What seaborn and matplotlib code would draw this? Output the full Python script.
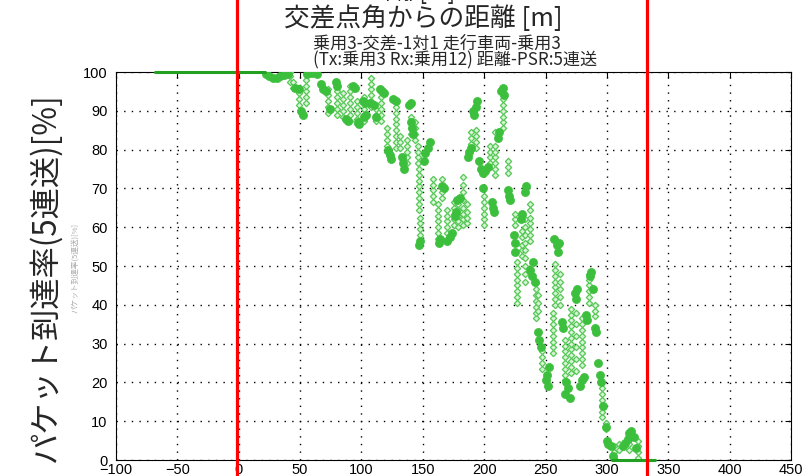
import matplotlib
matplotlib.use("Agg")
import matplotlib.pyplot as plt
import seaborn as sns
import pandas as pd

# ---------------- data ----------------
# sparse samples (open diamond markers), grouped in vertical stripes
stripe_x = [42, 44, 49, 55, 73, 80, 85, 91, 96, 102, 108, 112, 116, 121, 128, 131,
            137, 140, 144, 146, 147, 148, 158, 162, 166, 170, 175, 179, 183, 186,
            189, 193, 200, 205, 209, 215, 219, 225, 227, 231, 233, 237, 242, 244,
            247, 256, 258, 262, 266, 271, 275, 280, 285, 290, 296, 299, 306, 310,
            318, 325]
stripe_y = [
    [97.5, 99, 100],
    [96, 97.5],
    [91.5, 93, 94.5, 96],
    [92, 93.5, 95, 96.5, 98, 99.5],
    [89.5, 91, 92.5, 94, 95.5],
    [89, 90.5, 92, 93.5, 95],
    [88.5, 90, 91.5, 93, 94.5],
    [87.5, 89, 90.5, 92, 93.5, 95, 96.5],
    [86.5, 88, 89.5, 91, 92.5],
    [87.5, 89, 90.5, 93.5],
    [91, 92.5, 94, 95.5, 97, 98.5],
    [87.5, 89, 90.5],
    [87.5, 89, 90.5, 92, 93.5],
    [79.5, 81, 82.5, 84, 85.5],
    [80.5, 82, 83.5, 85, 86.5, 88, 89.5, 91],
    [80.5, 82, 83.5],
    [76.5, 78, 79.5, 81, 82.5],
    [84, 85.5, 87, 88.5],
    [82.5, 84, 85.5, 87],
    [76.5, 78, 79.5, 81],
    [64.5, 66, 67.5, 69, 70.5, 72, 73.5, 75],
    [58, 59.5, 61, 62.5],
    [66.5, 68, 69.5, 71, 72.5],
    [57, 58.5, 60, 61.5, 63, 64.5, 66],
    [67.5, 69, 72.5],
    [58.5, 60, 61.5, 63, 64.5],
    [60.5, 62, 63.5, 65, 66.5],
    [60, 61.5, 63, 64.5, 66],
    [60.5, 62, 63.5, 65, 67, 69, 71, 73],
    [61, 62.5, 64, 66],
    [80, 81.5, 83, 84.5],
    [80.5, 82, 83.5, 85],
    [60.5, 62, 63.5, 65, 66.5, 68],
    [76.5, 78, 79.5, 81],
    [73.5, 75, 76.5, 78, 79.5, 81, 84.5],
    [85.5, 87, 88.5, 90, 91.5, 93, 94.5],
    [74, 75.5, 77],
    [60.5, 62, 63.5],
    [40.5, 42, 43.5, 45, 46.5, 48, 49.5, 51],
    [52.5, 54, 55.5, 57.5, 59],
    [46, 48, 50, 52, 54, 56, 58, 60, 62],
    [56.5, 58, 59.5, 61, 62.5, 64.5, 66],
    [36.5, 38, 39.5, 41, 42.5, 44, 45.5],
    [38.5, 40.5, 42.5],
    [23.5, 25, 26.5, 28],
    [27.5, 29, 30.5, 32, 33.5, 35, 36.5, 38],
    [40, 41.5, 43, 44.5, 46, 47.5, 49, 50.5],
    [40, 42, 44, 46, 48],
    [20.5, 22, 23.5, 25, 26.5, 28, 29.5, 31],
    [22.5, 24, 25.5, 27, 28.5, 30, 31.5, 33, 34.5, 36, 37.5, 39],
    [23, 26, 29, 32, 35, 38],
    [24.5, 26, 27.5, 29, 30.5, 32, 33.5, 35, 36.5],
    [40.5, 42, 43.5, 45, 46.5, 48],
    [37, 38.5, 40],
    [11, 12.5, 14, 15.5, 17, 18.5],
    [8, 9.5],
    [0.5, 2, 3.5],
    [2.5, 4],
    [2.5, 4, 5.5],
    [0.5, 2, 3.5, 5],
]

# dense clusters (solid blobs)
blob_x = [22, 25, 28, 31, 34, 37, 40, 46, 49, 51, 52, 56, 60, 64, 67, 69, 71, 74,
          79, 80, 87, 89, 93, 95, 97, 98, 101, 103, 102, 104, 107, 110, 112, 115,
          117, 118, 122, 123, 124, 126, 128, 133, 134, 135, 139, 140, 140, 141, 142,
          147, 148, 152, 154, 156, 151, 163, 164, 166, 167, 170, 172, 174, 178, 180,
          177, 176, 187, 188, 189, 191, 193, 194, 192, 196, 197, 199, 201, 203, 199,
          207, 208, 206, 211, 212, 214, 215, 216, 219, 220, 221, 224, 225, 225, 230,
          231, 233, 234, 237, 239, 240, 241, 244, 245, 246, 250, 251, 252, 253, 257,
          259, 260, 261, 263, 264, 266, 268, 270, 267, 274, 275, 276, 278, 280, 281,
          283, 284, 286, 287, 289, 290, 291, 293, 294, 295, 297, 299, 300, 301, 303,
          305, 313, 315, 317, 318, 320, 322, 324]
blob_y = [99.5, 99, 98.5, 98.5, 99, 99.2, 99.5, 96, 95.5, 90, 89, 99.5, 99.8, 99.5,
          97, 95.5, 95, 90.5, 97.5, 96.5, 88, 87.5, 96.5, 96, 87, 86.5, 92.5, 92,
          88.5, 89, 92, 91.5, 88.5, 95.5, 95, 94.5, 80, 78.5, 77.5, 93, 92.5, 78,
          76.5, 75, 91.5, 92, 87, 85.5, 84, 55.5, 56.5, 79, 80.5, 82, 77, 56, 57,
          70.5, 70, 56.5, 57.5, 58.5, 67, 67.5, 64, 63, 78, 79.5, 80.5, 90, 91,
          92.5, 89, 77, 75, 74, 74.5, 75.5, 70, 65, 64, 66.5, 83, 84.5, 95, 96, 94,
          69.5, 68, 67, 58, 56, 53.5, 62, 63.5, 69, 70.5, 49, 47.5, 51, 46, 33, 31,
          29, 20.5, 22, 19, 24, 57, 55.5, 53.5, 56, 35.5, 34, 17, 18.5, 16, 20, 43,
          41.5, 44, 19, 20.5, 21.5, 37.5, 36, 47.5, 48.5, 44, 34, 33, 25, 22, 20,
          14, 8.5, 5, 4, 3.5, 1, 3.5, 4.5, 5.5, 7, 7.5, 6, 3]

# saturated segments drawn as lines
full_x = [-68, 21]
full_y = [100, 100]
zero_x = [304, 339]
zero_y = [0, 0]

# reference lines (intersection corner limits)
ref_lines = [-1.5, 333]

x_ticks = list(range(-100, 451, 50))
y_ticks = list(range(0, 101, 10))

# ---------------- figure ----------------
sns.set_style("white")
plt.rcParams["font.family"] = ["Liberation Sans", "DejaVu Sans"]
JP = ["Noto Sans CJK JP", "DejaVu Sans"]

fig = plt.figure(figsize=(8.09, 4.76), dpi=100)
ax = fig.add_axes([116 / 809, 16 / 476, 675 / 809, 388 / 476])

dx, dy = [], []
for xv, ys in zip(stripe_x, stripe_y):
    for yv in ys:
        dx.append(xv)
        dy.append(yv)
sparse = pd.DataFrame({"dist": dx, "psr": dy})
dense = pd.DataFrame({"dist": blob_x, "psr": blob_y})

sns.lineplot(x=full_x, y=full_y, ax=ax, color="#22a022", linewidth=2.2,
             clip_on=False, zorder=5)
sns.lineplot(x=zero_x, y=zero_y, ax=ax, color="#22a022", linewidth=2.2,
             clip_on=False, zorder=5)
sns.scatterplot(data=sparse, x="dist", y="psr", ax=ax, marker="D", s=10,
                facecolor="#d8f5d8", edgecolor="#55c855", linewidth=0.9,
                zorder=3)
sns.scatterplot(data=dense, x="dist", y="psr", ax=ax, marker="o", s=34,
                color="#3cbf3c", edgecolor="#3cbf3c", linewidth=0.5, zorder=4)

ax.set_xlim(-100, 450)
ax.set_ylim(0, 100)
ax.set_xticks(x_ticks)
ax.set_yticks(y_ticks)
ax.set_xticklabels([str(v).replace("-", "\u2212") for v in x_ticks])
ax.set_xlabel("")
ax.set_ylabel("")
ax.grid(True, color="black", linestyle=(0, (1, 4.5)), linewidth=1.0)
ax.tick_params(direction="in", top=True, right=True, length=4, width=0.8,
               labelsize=10.5, colors="black")
ax.tick_params(axis="x", pad=2)
ax.tick_params(axis="y", pad=6)
for sp in ax.spines.values():
    sp.set_color("black")
    sp.set_linewidth(0.8)

for xv in ref_lines:
    ax.axvline(xv, ymin=-0.05, ymax=1.2, color="#ff0000", linewidth=2.3,
               clip_on=False, zorder=6)

# texts
fig.text(415 / 809, 1 + 0.5 / 476, "距離[m]", family=JP, fontsize=16,
         ha="center", va="baseline")
fig.text(423 / 809, 1 - 19 / 476, "交差点角からの距離 [m]", family=JP,
         fontsize=18.5, ha="center", va="center")
fig.text(313 / 809, 1 - 52 / 476,
         "乗用3-交差-1対1 走行車両-乗用3\n(Tx:乗用3 Rx:乗用12) 距離-PSR:5連送",
         family=JP, fontsize=12.3, ha="left", va="center", linespacing=0.95)
fig.text(45 / 809, 1 - 278 / 476, "パケット到達率(5連送)[%]", family=JP,
         fontsize=22.5, rotation=90, ha="center", va="center")
fig.text(76 / 809, 1 - 268 / 476, "パケット到達率(5連送)[%]", family=JP,
         fontsize=5.5, rotation=90, ha="center", va="center", color="#aaaaaa")

fig.savefig("out.png", dpi=100)
